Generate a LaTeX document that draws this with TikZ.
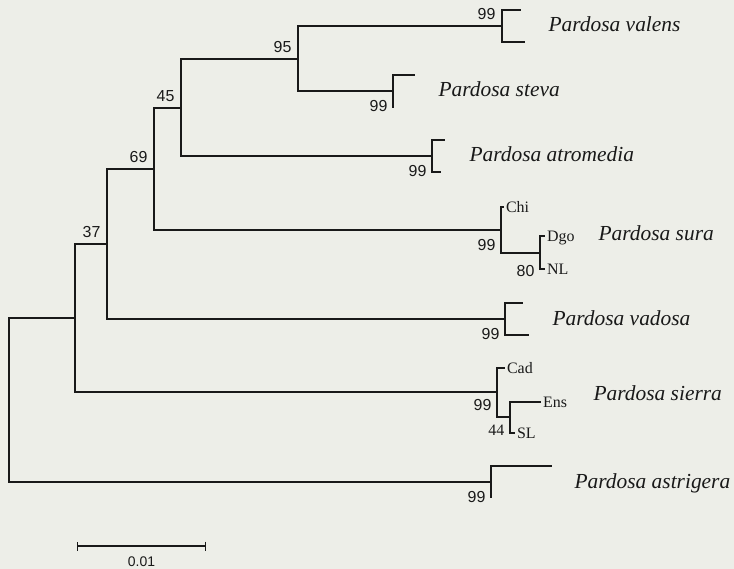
\documentclass[tikz,border=0pt]{standalone}
\usepackage{fontspec}
\setmainfont{Liberation Serif}
\setsansfont{Liberation Sans}
\usetikzlibrary{arrows.meta}
\definecolor{paper}{RGB}{237,238,232}
\definecolor{ink}{RGB}{25,25,25}
\begin{document}
\begin{tikzpicture}[x=1bp,y=-1bp,line width=1.2bp,draw=ink,
				every node/.style={inner sep=0pt,text=ink},
				taxon/.style={anchor=base west,font=\fontsize{21.5}{24}\selectfont\itshape},
				pop/.style={anchor=west,inner sep=1.5pt,text depth=0pt,font=\fontsize{16}{18}\selectfont},
				bsup/.style={anchor=south east,xshift=-6bp,yshift=6bp,font=\sffamily\fontsize{16}{18}\selectfont},
				bsdown/.style={anchor=north east,xshift=-5bp,yshift=-9bp,font=\sffamily\fontsize{16}{18}\selectfont}]
\fill[paper] (0,0) rectangle (734,569);
\useasboundingbox (0,0) rectangle (734,569);

\coordinate (root) at (9,400);
\coordinate (nA) at (75,318);
\coordinate (nB) at (107,244);
\coordinate (nC) at (154,169);
\coordinate (nD) at (181,108);
\coordinate (nE) at (298,59);
\coordinate (val) at (502,26);
\coordinate (ste) at (393,91);
\coordinate (atr) at (432,156);
\coordinate (sur) at (501,230);
\coordinate (sur2) at (540,253);
\coordinate (vad) at (505,319);
\coordinate (sie) at (497,392);
\coordinate (sie2) at (510,417);
\coordinate (ast) at (491,482);

\coordinate (val1) at (521,10);
\coordinate (val2) at (525,42);
\coordinate (ste1) at (415,75);
\coordinate (ste2) at (393,108);
\coordinate (atr1) at (445,140);
\coordinate (atr2) at (441,172);
\coordinate (chi) at (504,207);
\coordinate (dgo) at (545,236);
\coordinate (nl) at (545,269);
\coordinate (vad1) at (523,303);
\coordinate (vad2) at (529,335);
\coordinate (cad) at (505,368);
\coordinate (ens) at (541,402);
\coordinate (sl) at (515,433);
\coordinate (ast1) at (552,466);
\coordinate (ast2) at (491,498);

\draw (root) |- (nA) (root) |- (ast);
\draw (nA) |- (nB) (nA) |- (sie);
\draw (nB) |- (nC) (nB) |- (vad);
\draw (nC) |- (nD) (nC) |- (sur);
\draw (nD) |- (nE) (nD) |- (atr);
\draw (nE) |- (val) (nE) |- (ste);
\draw (val) |- (val1) (val) |- (val2);
\draw (ste) |- (ste1) (ste) |- (ste2);
\draw (atr) |- (atr1) (atr) |- (atr2);
\draw (sur) |- (chi) (sur) |- (sur2);
\draw (sur2) |- (dgo) (sur2) |- (nl);
\draw (vad) |- (vad1) (vad) |- (vad2);
\draw (sie) |- (cad) (sie) |- (sie2);
\draw (sie2) |- (ens) (sie2) |- (sl);
\draw (ast) |- (ast1) (ast) |- (ast2);

\node[bsup] (b-val) at (val) {99};
\node[bsup] (b-nE) at (nE) {95};
\node[bsup] (b-nD) at (nD) {45};
\node[bsup] (b-nC) at (nC) {69};
\node[bsup] (b-nB) at (nB) {37};
\node[bsdown] (b-ste) at (ste) {99};
\node[bsdown] (b-atr) at (atr) {99};
\node[bsdown] (b-sur) at (sur) {99};
\node[bsdown,yshift=-3bp] (b-sur2) at (sur2) {80};
\node[bsdown] (b-vad) at (vad) {99};
\node[bsdown,yshift=2bp] (b-sie) at (sie) {99};
\node[bsdown,yshift=2bp,font=\fontsize{16}{18}\selectfont] (b-sie2) at (sie2) {44};
\node[bsdown] (b-ast) at (ast) {99};

\node[pop] (t-chi) at (chi) {Chi};
\node[pop] (t-dgo) at (dgo) {Dgo};
\node[pop] (t-nl) at (nl) {NL};
\node[pop] (t-cad) at (cad) {Cad};
\node[pop] (t-ens) at (ens) {Ens};
\node[pop] (t-sl) at (sl) {SL};

\node[taxon] (valens) at (548,32) {Pardosa valens};
\node[taxon] (steva) at (438,97) {Pardosa steva};
\node[taxon] (atromedia) at (469,162) {Pardosa atromedia};
\node[taxon] (sura) at (598,240.5) {Pardosa sura};
\node[taxon] (vadosa) at (552,325) {Pardosa vadosa};
\node[taxon] (sierra) at (593,400) {Pardosa sierra};
\node[taxon] (astrigera) at (574,488) {Pardosa astrigera};

\coordinate (sb1) at (77,546);
\coordinate (sb2) at (206,546);
\draw[{Bar[width=9bp]}-{Bar[width=9bp]}] (sb1) -- (sb2)
	node[midway,anchor=north,yshift=-10bp,font=\sffamily\fontsize{14}{16}\selectfont] (scale) {0.01};
\end{tikzpicture}
\end{document}
